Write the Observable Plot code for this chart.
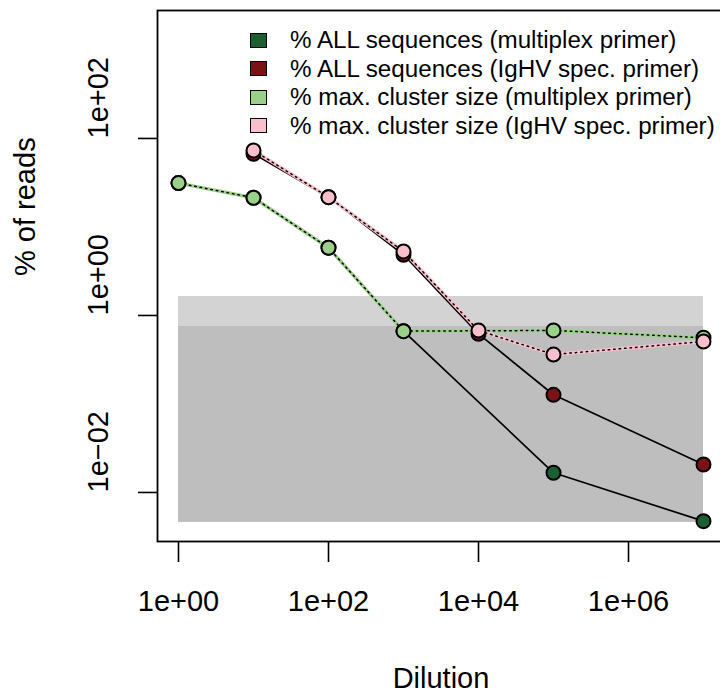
<!DOCTYPE html>
<html><head><meta charset="utf-8">
<script src="https://cdn.jsdelivr.net/npm/d3@7"></script>
<script src="https://cdn.jsdelivr.net/npm/@observablehq/plot@0.6"></script>
<style>
html,body{margin:0;padding:0;background:#fff;overflow:hidden;}
#wrap{position:relative;width:720px;height:697px;}
#legend{position:absolute;left:250px;top:0;font-family:"Liberation Sans",Arial,sans-serif;font-size:24.2px;color:#000;white-space:nowrap;}
.row{position:absolute;left:0;height:28px;display:flex;align-items:center;}
.sw{width:15px;height:13px;border:1.6px solid #000;margin-right:23px;}
</style></head>
<body><div id="wrap"><div id="chart"></div><div id="legend"></div></div>
<script>
// ---- data ----
const dilMultiplex = [1, 10, 100, 1000, 1e5, 1e7];
const allMultiplex = [31.3, 21.4, 5.82, 0.665, 0.0167, 0.00474];
const maxMultiplex = [31.3, 21.4, 5.82, 0.665, 0.677, 0.56];
const dilIgHV = [10, 100, 1000, 1e4, 1e5, 1e7];
const allIgHV = [67.1, 21.7, 4.85, 0.62, 0.127, 0.0207];
const maxIgHV = [73.2, 21.7, 5.29, 0.677, 0.362, 0.508];

const seriesNames = [
  "% ALL sequences (multiplex primer)",
  "% ALL sequences (IgHV spec. primer)",
  "% max. cluster size (multiplex primer)",
  "% max. cluster size (IgHV spec. primer)"
];
const seriesColors = ["#1b5e2f", "#7a1216", "#9bd088", "#f9bfca"];

const shadeFrom = [1, 1];
const shadeTo = [1e7, 1e7];
const shadeLow = [0.0046, 0.0046];
const shadeHigh = [1.64, 0.75];
const shadeColors = ["#d3d3d3", "#bebebe"];

const xTicks = [1, 100, 1e4, 1e6];
const yTicks = [0.01, 1, 100];
const xLabel = "Dilution";
const yLabel = "% of reads";

// ---- build tables ----
const fmt = v => { const e = Math.round(Math.log10(v)); return "1e" + (e < 0 ? "\u2212" : "+") + String(Math.abs(e)).padStart(2, "0"); };
const mk = (xs, ys, s) => xs.map((x, i) => ({x, y: ys[i], s}));
const series = [
  mk(dilMultiplex, allMultiplex, 0),
  mk(dilIgHV, allIgHV, 1),
  mk(dilMultiplex, maxMultiplex, 2),
  mk(dilIgHV, maxIgHV, 3)
];
const shades = shadeFrom.map((f, i) => ({x1: f, x2: shadeTo[i], y1: shadeLow[i], y2: shadeHigh[i], c: shadeColors[i]}));

const marks = [];
marks.push(Plot.rect(shades, {x1: "x1", x2: "x2", y1: "y1", y2: "y2", fill: d => d.c}));
// ALL sequences: black solid lines
for (const k of [0, 1]) marks.push(Plot.line(series[k], {x: "x", y: "y", stroke: "#000", strokeWidth: 1.7}));
// max cluster: coloured line + black dotted overlay
for (const k of [2, 3]) {
  marks.push(Plot.line(series[k], {x: "x", y: "y", stroke: seriesColors[k], strokeWidth: 3.4}));
  marks.push(Plot.line(series[k], {x: "x", y: "y", stroke: "#000", strokeWidth: 1.5, strokeDasharray: "1.5,4"}));
}
for (const k of [0, 1, 2, 3]) marks.push(Plot.dot(series[k], {x: "x", y: "y", r: 7, fill: seriesColors[k], stroke: "#000", strokeWidth: 2}));

marks.push(Plot.frame({stroke: "#000", strokeWidth: 1.8}));
marks.push(Plot.axisX({ticks: xTicks, tickSize: 21, tickPadding: 28, tickFormat: fmt, fontSize: 29, label: null, strokeWidth: 1.6}));
marks.push(Plot.axisY({ticks: yTicks, tickSize: 19, tickFormat: () => "", label: null, strokeWidth: 1.6}));
marks.push(Plot.text(yTicks, {y: d => d, frameAnchor: "left", dx: -59, rotate: -90, text: fmt, fontSize: 29}));
marks.push(Plot.text([yLabel], {frameAnchor: "left", dx: -132, rotate: -90, text: d => d, fontSize: 29}));
marks.push(Plot.text([xLabel], {frameAnchor: "bottom", dy: 146, text: d => d, fontSize: 29}));

const chart = Plot.plot({
  width: 720, height: 697,
  marginLeft: 157, marginRight: -4, marginTop: 10, marginBottom: 156,
  style: {fontFamily: "'Liberation Sans', Arial, sans-serif", fontSize: "29px", color: "#000", background: "#fff", overflow: "hidden"},
  x: {type: "log", domain: [Math.pow(10, -0.28), Math.pow(10, 7.28)]},
  y: {type: "log", domain: [Math.pow(10, -2.554), Math.pow(10, 3.446)]},
  marks
});
document.getElementById("chart").appendChild(chart);

const leg = document.getElementById("legend");
seriesNames.forEach((name, i) => {
  const row = document.createElement("div");
  row.className = "row";
  row.style.top = (26 + i * 28.6) + "px";
  const sw = document.createElement("div");
  sw.className = "sw";
  sw.style.background = seriesColors[i];
  const t = document.createElement("span");
  t.textContent = name;
  row.appendChild(sw); row.appendChild(t);
  leg.appendChild(row);
});
</script></body></html>
